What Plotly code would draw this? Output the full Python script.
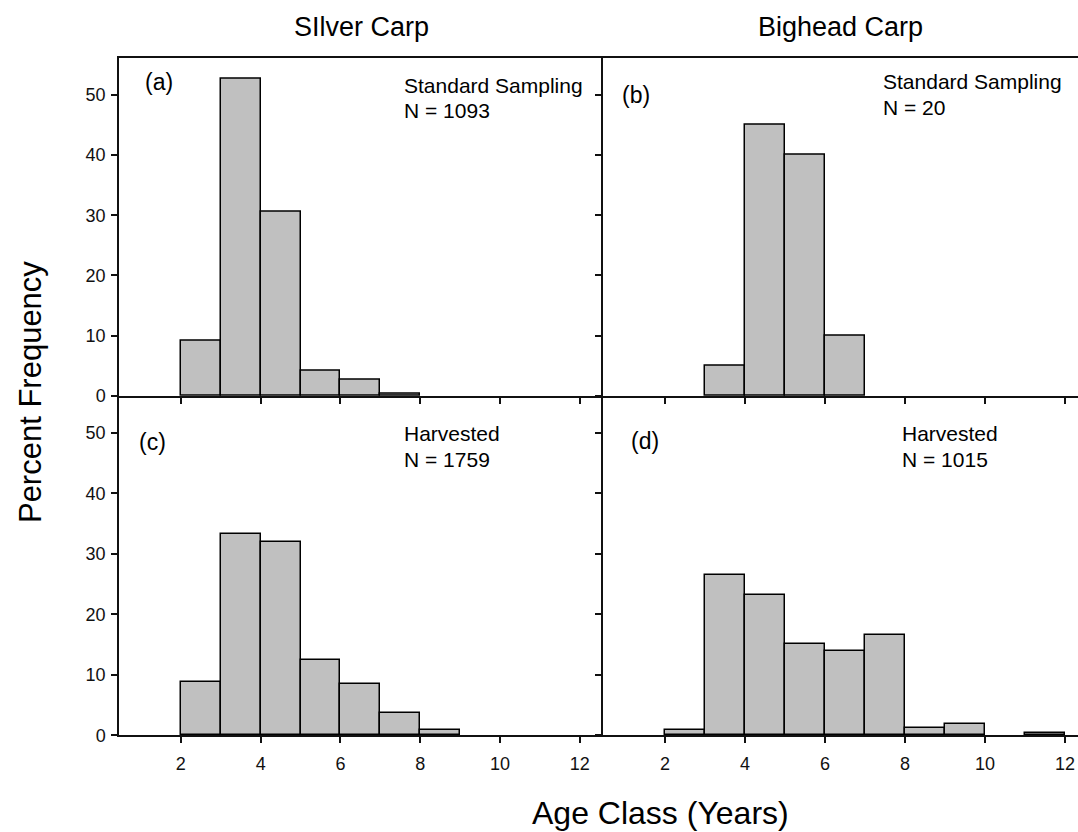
import plotly.graph_objects as go

# Age-class frequency distributions (percent), bins span [age, age + 1)
age_ticks = [2, 4, 6, 8, 10, 12]
pct_ticks = [0, 10, 20, 30, 40, 50]

silver_std_age = [2, 3, 4, 5, 6, 7]
silver_std_pct = [9.2, 52.7, 30.5, 4.2, 2.7, 0.4]

bighead_std_age = [3, 4, 5, 6]
bighead_std_pct = [5.0, 45.0, 40.0, 10.0]

silver_harv_age = [2, 3, 4, 5, 6, 7, 8]
silver_harv_pct = [8.8, 33.3, 32.0, 12.5, 8.5, 3.6, 0.8]

bighead_harv_age = [2, 3, 4, 5, 6, 7, 8, 9, 11]
bighead_harv_pct = [0.8, 26.5, 23.2, 15.0, 14.0, 16.5, 1.2, 1.8, 0.3]

panel_labels = ["(a)", "(b)", "(c)", "(d)"]
panel_notes = [("Standard Sampling", "N = 1093"), ("Standard Sampling", "N = 20"),
               ("Harvested", "N = 1759"), ("Harvested", "N = 1015")]
col_titles = ["SIlver Carp", "Bighead Carp"]

W, H = 1078, 832
H_VIEW = 824  # usable page height the figure is laid out against
FONT = "Liberation Sans, Arial, sans-serif"


def px_x(p):
    return p / W


def px_y(p):
    return 1 - p / H_VIEW


# plot-area geometry in pixels
left_x0, mid_x, right_x1 = 119, 603, 1078
top_y0, mid_y, bot_y1 = 58, 397, 737

fig = go.Figure()

series = [
    (silver_std_age, silver_std_pct, "x", "y"),
    (bighead_std_age, bighead_std_pct, "x2", "y2"),
    (silver_harv_age, silver_harv_pct, "x3", "y3"),
    (bighead_harv_age, bighead_harv_pct, "x4", "y4"),
]
for ages, pct, xa, ya in series:
    fig.add_trace(go.Bar(
        x=ages, y=pct, width=1, offset=0,
        xaxis=xa, yaxis=ya,
        marker=dict(color="#c0c0c0", line=dict(color="#000000", width=1.5)),
        showlegend=False, hoverinfo="x+y",
    ))

axis_common = dict(
    showgrid=False, zeroline=False, showline=True,
    linecolor="#111111", linewidth=1.5,
    ticks="outside", ticklen=6, tickwidth=1.5, tickcolor="#111111",
    tickfont=dict(family=FONT, size=18, color="#111111"),
)

x_left = [px_x(left_x0), px_x(mid_x)]
x_right = [px_x(mid_x), min(1.0, px_x(right_x1))]
y_top = [px_y(mid_y), px_y(top_y0)]
y_bot = [px_y(bot_y1), px_y(mid_y)]

xr_left = [0.45, 12.58]
xr_right = [0.45, 0.45 + (right_x1 - mid_x) / 40.0]
yr = [0, 56.1]

fig.update_layout(
    xaxis=dict(axis_common, domain=x_left, range=xr_left, tickvals=age_ticks,
               showticklabels=False, mirror=True, anchor="y"),
    yaxis=dict(axis_common, domain=y_top, range=yr, tickvals=pct_ticks,
               anchor="x", ticklabelstandoff=2),
    xaxis2=dict(axis_common, domain=x_right, range=xr_right, tickvals=age_ticks,
                showticklabels=False, mirror=True, anchor="y2"),
    yaxis2=dict(axis_common, domain=y_top, range=yr, tickvals=pct_ticks,
                showticklabels=False, anchor="x2"),
    xaxis3=dict(axis_common, domain=x_left, range=xr_left, tickvals=age_ticks,
                anchor="y3", ticklabelstandoff=5),
    yaxis3=dict(axis_common, domain=y_bot, range=yr, tickvals=pct_ticks,
                anchor="x3", ticklabelstandoff=2),
    xaxis4=dict(axis_common, domain=x_right, range=xr_right, tickvals=age_ticks,
                anchor="y4", ticklabelstandoff=5),
    yaxis4=dict(axis_common, domain=y_bot, range=yr, tickvals=pct_ticks,
                showticklabels=False, anchor="x4"),
    width=W, height=H,
    margin=dict(l=0, r=0, t=0, b=0),
    paper_bgcolor="white", plot_bgcolor="white",
    bargap=0,
)

annotations = []


def text(x, y, s, size, anchor="left", angle=0):
    annotations.append(dict(
        x=px_x(x), y=px_y(y), xref="paper", yref="paper", text=s,
        showarrow=False, xanchor=anchor, yanchor="middle", textangle=angle,
        font=dict(family=FONT, size=size, color="#000000"),
    ))


# column titles
text((left_x0 + mid_x) / 2, 27, col_titles[0], 27, "center")
text((mid_x + right_x1) / 2, 27, col_titles[1], 27, "center")

# panel letters
letter_pos = [(143, 82), (620, 95), (137, 443), (629, 442)]
for (lx, ly), lab in zip(letter_pos, panel_labels):
    text(lx, ly, lab, 23)

# panel notes (two lines each)
note_pos = [(402, 86, 111), (881, 82, 108), (402, 435, 461), (900, 435, 461)]
for (nx, ny1, ny2), (l1, l2) in zip(note_pos, panel_notes):
    text(nx, ny1, l1, 21)
    text(nx, ny2, l2, 21)

# shared axis titles
text(30, 393, "Percent Frequency", 31, "center", -90)
text(660, 815, "Age Class (Years)", 32, "center")

fig.update_layout(annotations=annotations)

fig.write_html("out.html")
